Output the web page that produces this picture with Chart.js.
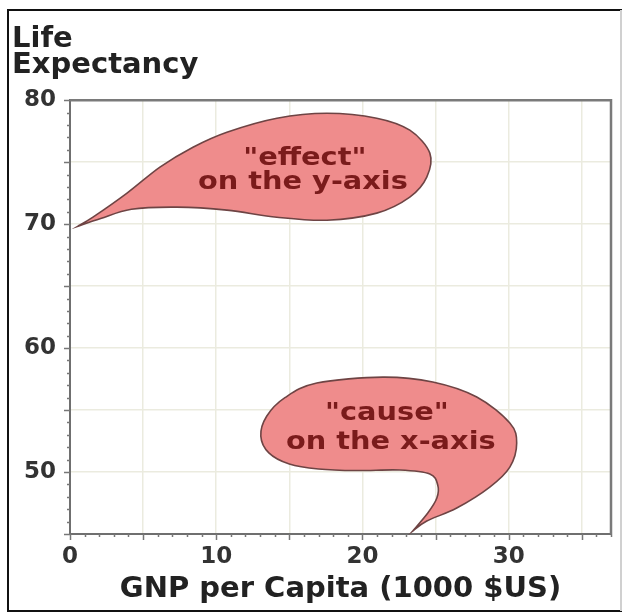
<!DOCTYPE html>
<html>
<head>
<meta charset="utf-8">
<script src="https://cdn.jsdelivr.net/npm/chart.js@4/dist/chart.umd.min.js"></script>
<style>
  html, body { margin: 0; padding: 0; background: #fff; }
  #wrap { width: 624px; height: 614px; }
</style>
</head>
<body>
<div id="wrap"><canvas id="c" width="624" height="614"></canvas></div>
<script>
// Axis ranges and tick labels
const xRange = [0, 37];
const yRange = [45, 80];
const gridStep = 5;
const minorStep = 1;
const xTickLabels = [0, 10, 20, 30];
const yTickLabels = [50, 60, 70, 80];

// Speech bubble outlines in axis units (GNP, life expectancy); first and last point is the tail tip
const effectOutline = [
  [0.55, 69.84], [1.57, 70.56], [3.90, 72.50], [6.15, 74.60], [8.41, 76.21],
  [10.73, 77.42], [14.15, 78.55], [17.57, 78.95], [20.98, 78.55], [23.24, 77.58],
  [24.61, 75.73], [24.40, 73.79], [23.24, 72.18], [20.98, 70.89], [17.57, 70.32],
  [14.15, 70.56], [10.73, 71.13], [7.31, 71.37], [4.20, 71.20], [2.10, 70.45],
  [0.55, 69.84]
];
const causeOutline = [
  [23.44, 45.24], [24.40, 46.05], [26.45, 47.10], [28.71, 48.79], [30.08, 50.40],
  [30.55, 52.34], [30.08, 53.95], [27.82, 56.05], [24.81, 57.26], [21.39, 57.66],
  [16.88, 57.18], [14.70, 56.00], [13.45, 54.50], [13.05, 52.90], [13.60, 51.55],
  [15.00, 50.65], [17.00, 50.25], [19.60, 50.12], [22.56, 50.16], [24.61, 49.84],
  [25.15, 48.95], [25.09, 47.90], [24.47, 46.69], [23.44, 45.24]
];
const effectLines = ['"effect"', 'on the y-axis'];
const effectLineAt = [[16.06, 75.30], [15.93, 73.30]];
const causeLines = ['"cause"', 'on the x-axis'];
const causeLineAt = [[21.67, 54.70], [21.94, 52.40]];

const FONT = 'DejaVu Sans';

// Outer frame around the whole figure
const framePlugin = {
  id: 'frame',
  afterDraw(chart) {
    const ctx = chart.ctx;
    ctx.save();
    ctx.lineWidth = 2;
    ctx.strokeStyle = '#111';
    ctx.beginPath();
    ctx.moveTo(622, 10); ctx.lineTo(8, 10); ctx.lineTo(8, 611); ctx.lineTo(622, 611);
    ctx.stroke();
    ctx.strokeStyle = '#d0d0d0';
    ctx.beginPath();
    ctx.moveTo(621, 10); ctx.lineTo(621, 611);
    ctx.stroke();
    ctx.restore();
  }
};

// Box around the plot area plus small minor ticks on both axes
const boxPlugin = {
  id: 'plotBox',
  afterDraw(chart) {
    const { ctx, chartArea: a, scales } = chart;
    ctx.save();
    ctx.strokeStyle = '#777';
    ctx.lineWidth = 1.5;
    ctx.beginPath();
    for (let v = yRange[0]; v <= yRange[1]; v += minorStep) {
      const y = Math.round(scales.y.getPixelForValue(v)) + 0.5;
      const len = v % gridStep === 0 ? 6 : 3;
      ctx.moveTo(a.left - len, y); ctx.lineTo(a.left, y);
    }
    for (let v = xRange[0]; v <= xRange[1]; v += minorStep) {
      const x = Math.round(scales.x.getPixelForValue(v)) + 0.5;
      const len = v % gridStep === 0 ? 6 : 3;
      ctx.moveTo(x, a.bottom); ctx.lineTo(x, a.bottom + len);
    }
    ctx.stroke();
    ctx.strokeStyle = '#7a7a7a';
    ctx.lineWidth = 2.5;
    ctx.beginPath();
    ctx.moveTo(a.left, a.top); ctx.lineTo(a.right, a.top); ctx.lineTo(a.right, a.bottom);
    ctx.stroke();
    ctx.restore();
  }
};

// Smooth outline through the given points with a sharp corner at the tail tip
function tracePath(ctx, pts) {
  const n = pts.length;
  const P = i => pts[Math.max(0, Math.min(n - 1, i))];
  ctx.moveTo(pts[0][0], pts[0][1]);
  for (let i = 0; i < n - 1; i++) {
    const p0 = P(i - 1), p1 = P(i), p2 = P(i + 1), p3 = P(i + 2);
    const c1 = [p1[0] + (p2[0] - p0[0]) / 6, p1[1] + (p2[1] - p0[1]) / 6];
    const c2 = [p2[0] - (p3[0] - p1[0]) / 6, p2[1] - (p3[1] - p1[1]) / 6];
    ctx.bezierCurveTo(c1[0], c1[1], c2[0], c2[1], p2[0], p2[1]);
  }
  ctx.closePath();
}

const bubblePlugin = {
  id: 'bubbles',
  afterDatasetsDraw(chart) {
    const { ctx, scales } = chart;
    const toPx = p => [scales.x.getPixelForValue(p[0]), scales.y.getPixelForValue(p[1])];
    const bubbles = [
      { outline: effectOutline, lines: effectLines, at: effectLineAt },
      { outline: causeOutline, lines: causeLines, at: causeLineAt }
    ];
    ctx.save();
    for (const b of bubbles) {
      ctx.beginPath();
      tracePath(ctx, b.outline.map(toPx));
      ctx.fillStyle = '#ef8c8c';
      ctx.fill();
      ctx.lineWidth = 1.6;
      ctx.strokeStyle = '#6e4444';
      ctx.stroke();
      ctx.fillStyle = '#7a1b1b';
      ctx.font = 'bold 24px "' + FONT + '"';
      ctx.textAlign = 'center';
      ctx.textBaseline = 'middle';
      b.lines.forEach((t, i) => {
        const [px, py] = toPx(b.at[i]);
        ctx.save();
        ctx.translate(px, py);
        ctx.scale(1.2, 1);
        ctx.fillText(t, 0, 0);
        ctx.restore();
      });
    }
    ctx.restore();
  }
};

const tickFont = { family: FONT, weight: 'bold', size: 23 };
const gridColor = '#ebebdf';

new Chart(document.getElementById('c'), {
  type: 'scatter',
  data: { datasets: [{ data: [] }] },
  options: {
    responsive: false,
    animation: false,
    devicePixelRatio: 1,
    layout: { padding: { left: 12, top: 0, right: 13, bottom: 0 } },
    plugins: {
      legend: { display: false },
      tooltip: { enabled: false },
      title: {
        display: true,
        text: ['Life', 'Expectancy'],
        align: 'start',
        color: '#222',
        font: { family: FONT, weight: 'bold', size: 29, lineHeight: 0.9 },
        padding: { top: 26, bottom: 22 }
      }
    },
    scales: {
      x: {
        type: 'linear',
        min: xRange[0],
        max: xRange[1],
        afterFit: s => { s.height = 80; },
        border: { display: true, color: '#6f6f6f', width: 2 },
        grid: { color: gridColor, lineWidth: 1.5, drawTicks: false },
        ticks: {
          stepSize: gridStep,
          includeBounds: false,
          autoSkip: false,
          maxRotation: 0,
          padding: 9,
          color: '#333',
          font: tickFont,
          callback: v => xTickLabels.includes(v) ? String(v) : ''
        },
        title: {
          display: true,
          text: 'GNP per Capita (1000 $US)',
          color: '#222',
          font: { family: FONT, weight: 'bold', size: 29 },
          padding: { top: 0, bottom: 7 }
        }
      },
      y: {
        type: 'linear',
        min: yRange[0],
        max: yRange[1],
        afterFit: s => { s.width = 58; },
        border: { display: true, color: '#6f6f6f', width: 2 },
        grid: { color: gridColor, lineWidth: 1.5, drawTicks: false },
        ticks: {
          stepSize: gridStep,
          includeBounds: false,
          autoSkip: false,
          padding: 14,
          color: '#333',
          font: tickFont,
          callback: v => yTickLabels.includes(v) ? String(v) : ''
        }
      }
    }
  },
  plugins: [bubblePlugin, boxPlugin, framePlugin]
});
</script>
</body>
</html>
